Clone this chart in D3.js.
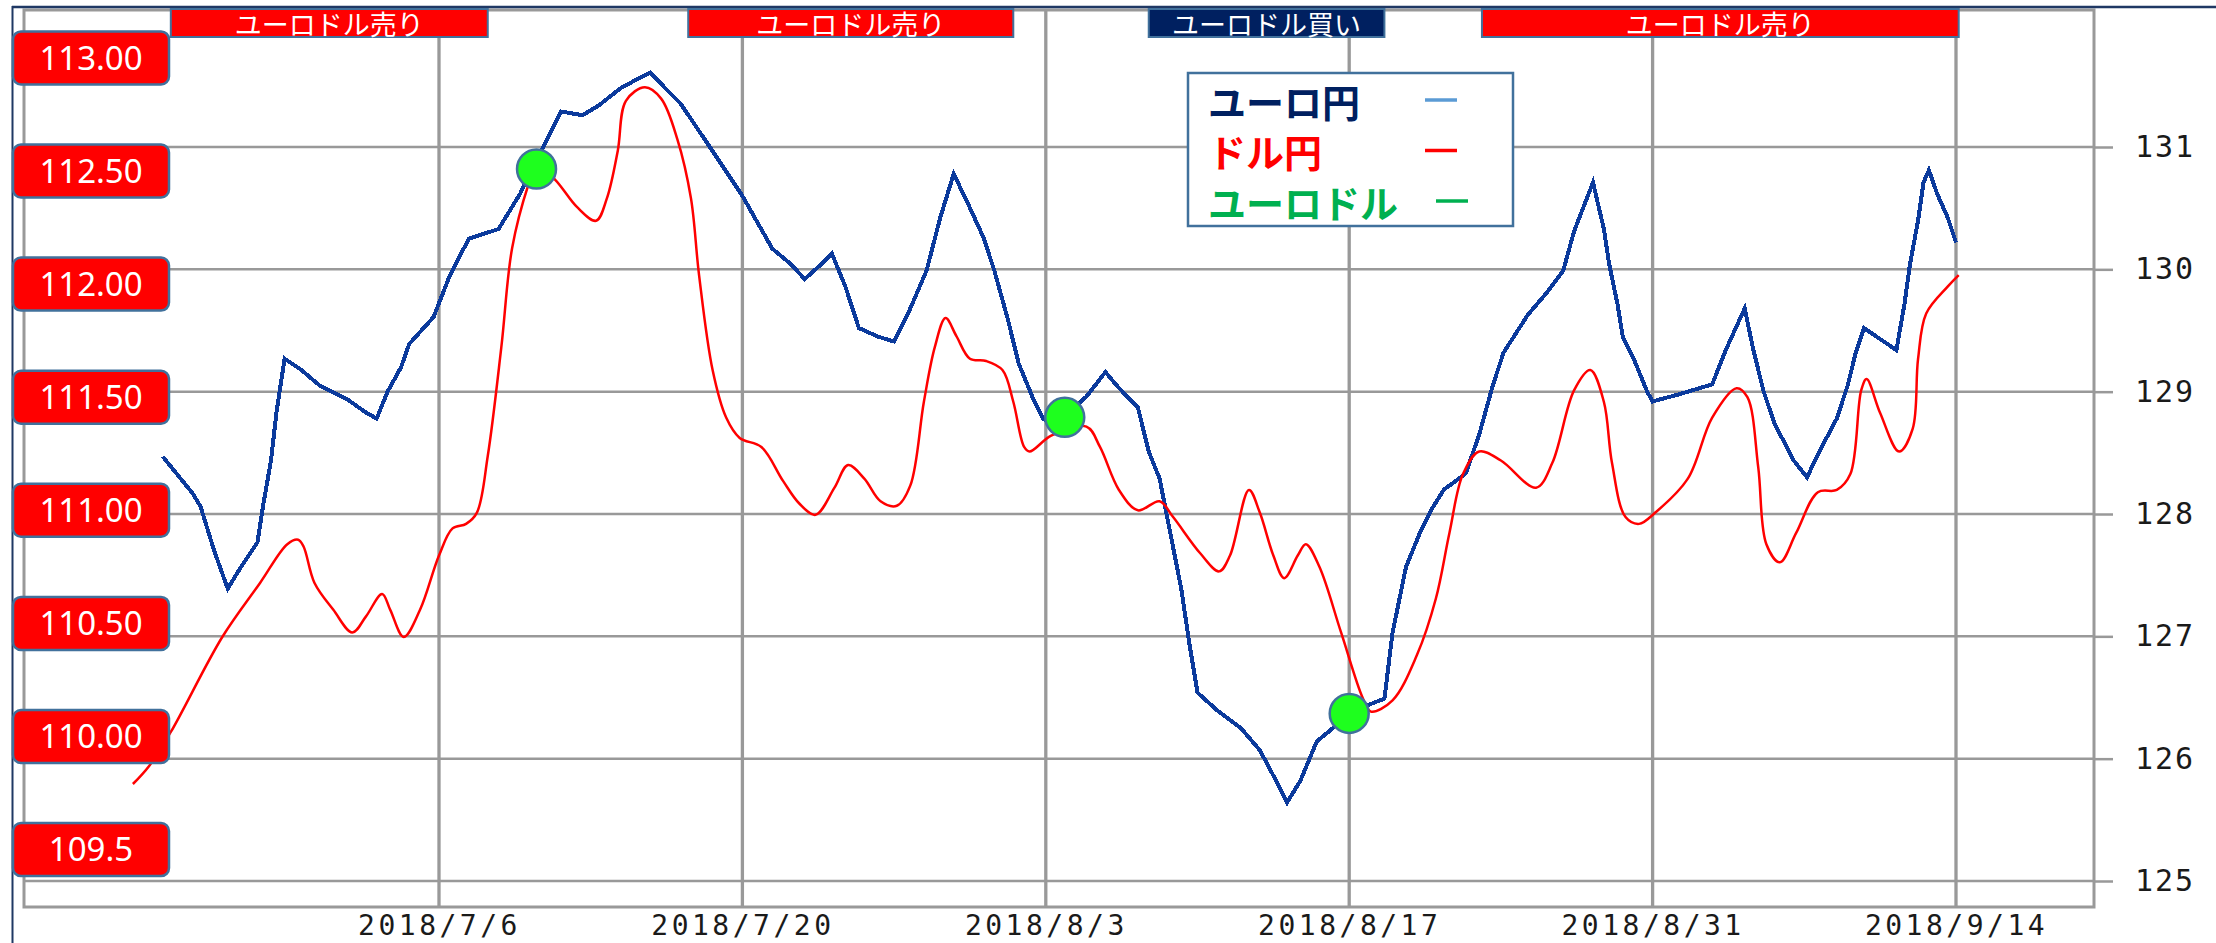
<!DOCTYPE html>
<html>
<head>
<meta charset="utf-8">
<script src="https://cdn.jsdelivr.net/npm/d3@7"></script>
<style>
  html, body { margin: 0; padding: 0; background: #fff; }
  svg { display: block; }
</style>
</head>
<body>
<div id="chart"></div>
<script>
// ユーロ円 (right axis)
const eurJpyTimes = [
  "2018/6/23 06", "2018/6/24 15", "2018/6/25 00", "2018/6/25 15", "2018/6/26 06", "2018/6/26 21",
  "2018/6/27 15", "2018/6/27 21", "2018/6/28 06", "2018/6/28 12", "2018/6/28 21", "2018/6/29 15",
  "2018/6/30 12", "2018/7/1 18", "2018/7/2 15", "2018/7/3 03", "2018/7/3 15", "2018/7/4 06",
  "2018/7/4 15", "2018/7/5 18", "2018/7/6 12", "2018/7/7 09", "2018/7/8 18", "2018/7/9 18",
  "2018/7/10 18", "2018/7/11 15", "2018/7/12 15", "2018/7/13 09", "2018/7/14 09", "2018/7/15 00",
  "2018/7/15 18", "2018/7/16 12", "2018/7/17 03", "2018/7/18 12", "2018/7/20 00", "2018/7/21 09",
  "2018/7/22 06", "2018/7/22 21", "2018/7/23 15", "2018/7/24 03", "2018/7/24 18", "2018/7/25 09",
  "2018/7/26 06", "2018/7/27 00", "2018/7/27 15", "2018/7/28 12", "2018/7/29 03", "2018/7/29 18",
  "2018/7/30 09", "2018/7/31 03", "2018/7/31 15", "2018/8/1 06", "2018/8/1 18", "2018/8/2 09",
  "2018/8/2 21", "2018/8/3 09", "2018/8/4 21", "2018/8/5 18", "2018/8/6 09", "2018/8/7 06",
  "2018/8/7 18", "2018/8/8 06", "2018/8/8 18", "2018/8/9 06", "2018/8/9 15", "2018/8/10 00",
  "2018/8/10 21", "2018/8/12 00", "2018/8/12 21", "2018/8/13 15", "2018/8/14 03", "2018/8/14 18",
  "2018/8/15 12", "2018/8/16 06", "2018/8/17 00", "2018/8/18 15", "2018/8/19 00", "2018/8/19 15",
  "2018/8/20 06", "2018/8/20 21", "2018/8/21 09", "2018/8/22 09", "2018/8/23 00", "2018/8/23 15",
  "2018/8/24 03", "2018/8/25 06", "2018/8/26 03", "2018/8/26 21", "2018/8/27 09", "2018/8/28 06",
  "2018/8/28 18", "2018/8/29 00", "2018/8/29 09", "2018/8/29 15", "2018/8/30 03", "2018/8/30 18",
  "2018/8/31 00", "2018/9/1 06", "2018/9/2 18", "2018/9/3 09", "2018/9/4 06", "2018/9/4 15",
  "2018/9/5 03", "2018/9/5 15", "2018/9/6 12", "2018/9/7 03", "2018/9/7 18", "2018/9/8 12",
  "2018/9/9 00", "2018/9/9 09", "2018/9/9 18", "2018/9/10 12", "2018/9/11 06", "2018/9/11 15",
  "2018/9/11 21", "2018/9/12 06", "2018/9/12 12", "2018/9/12 18", "2018/9/13 03", "2018/9/13 15",
  "2018/9/14 00"
];
const eurJpyValues = [
  128.47, 128.17, 128.06, 127.70, 127.39, 127.57,
  127.77, 128.06, 128.44, 128.83, 129.27, 129.18,
  129.05, 128.94, 128.83, 128.78, 129.00, 129.20,
  129.39, 129.61, 129.95, 130.25, 130.33, 130.62,
  130.98, 131.29, 131.26, 131.34, 131.48, 131.54,
  131.61, 131.47, 131.36, 131.00, 130.60, 130.17,
  130.04, 129.92, 130.04, 130.13, 129.86, 129.52,
  129.45, 129.41, 129.63, 129.99, 130.42, 130.78,
  130.55, 130.26, 129.99, 129.59, 129.23, 128.96,
  128.78, 128.72, 128.96, 129.16, 129.03, 128.87,
  128.51, 128.29, 127.84, 127.39, 126.94, 126.54,
  126.40, 126.25, 126.07, 125.82, 125.64, 125.82,
  126.14, 126.25, 126.38, 126.49, 127.03, 127.57,
  127.84, 128.06, 128.20, 128.33, 128.65, 129.05,
  129.32, 129.63, 129.81, 129.99, 130.31, 130.71,
  130.33, 130.04, 129.72, 129.45, 129.27, 129.00,
  128.92, 128.98, 129.06, 129.34, 129.68, 129.36,
  129.00, 128.74, 128.44, 128.30, 128.53, 128.78,
  129.05, 129.32, 129.52, 129.43, 129.34, 129.72,
  130.04, 130.40, 130.71, 130.81, 130.62, 130.42,
  130.22
];

// ドル円 (left labels)
const usdJpyTimes = [
  "2018/6/21 21", "2018/6/22 15", "2018/6/23 15", "2018/6/26 00", "2018/6/27 18", "2018/6/29 00",
  "2018/6/29 12", "2018/6/29 18", "2018/6/30 06", "2018/7/1 03", "2018/7/2 00", "2018/7/2 15",
  "2018/7/3 09", "2018/7/3 18", "2018/7/4 09", "2018/7/5 03", "2018/7/6 00", "2018/7/6 15",
  "2018/7/7 06", "2018/7/7 18", "2018/7/8 06", "2018/7/8 21", "2018/7/9 09", "2018/7/10 03",
  "2018/7/10 12", "2018/7/11 09", "2018/7/12 09", "2018/7/13 06", "2018/7/13 18", "2018/7/14 06",
  "2018/7/14 15", "2018/7/15 12", "2018/7/16 06", "2018/7/17 00", "2018/7/17 15", "2018/7/18 00",
  "2018/7/18 15", "2018/7/19 06", "2018/7/19 21", "2018/7/20 21", "2018/7/21 21", "2018/7/22 15",
  "2018/7/23 09", "2018/7/24 06", "2018/7/24 21", "2018/7/25 15", "2018/7/26 09", "2018/7/27 03",
  "2018/7/27 18", "2018/7/28 09", "2018/7/28 21", "2018/7/29 09", "2018/7/29 21", "2018/7/30 12",
  "2018/7/31 06", "2018/8/1 00", "2018/8/1 12", "2018/8/2 00", "2018/8/2 06", "2018/8/3 06",
  "2018/8/4 21", "2018/8/5 12", "2018/8/6 09", "2018/8/7 06", "2018/8/8 06", "2018/8/8 21",
  "2018/8/10 03", "2018/8/11 00", "2018/8/11 12", "2018/8/12 09", "2018/8/12 21", "2018/8/13 12",
  "2018/8/14 00", "2018/8/14 15", "2018/8/15 00", "2018/8/15 15", "2018/8/16 15", "2018/8/17 15",
  "2018/8/18 00", "2018/8/19 00", "2018/8/20 03", "2018/8/21 00", "2018/8/21 15", "2018/8/22 06",
  "2018/8/23 00", "2018/8/24 00", "2018/8/25 15", "2018/8/26 09", "2018/8/27 09", "2018/8/28 03",
  "2018/8/28 18", "2018/8/29 03", "2018/8/29 18", "2018/8/30 09", "2018/8/31 03", "2018/9/1 15",
  "2018/9/2 18", "2018/9/3 21", "2018/9/4 09", "2018/9/4 21", "2018/9/5 06", "2018/9/5 21",
  "2018/9/6 15", "2018/9/7 15", "2018/9/8 12", "2018/9/9 03", "2018/9/9 15", "2018/9/9 21",
  "2018/9/10 12", "2018/9/11 09", "2018/9/12 00", "2018/9/12 06", "2018/9/12 15", "2018/9/13 15",
  "2018/9/14 03"
];
const usdJpyValues = [
  109.79, 109.87, 110.02, 110.44, 110.68, 110.85,
  110.87, 110.84, 110.68, 110.56, 110.46, 110.53,
  110.63, 110.56, 110.44, 110.56, 110.80, 110.92,
  110.94, 110.99, 111.24, 111.72, 112.16, 112.44,
  112.53, 112.46, 112.34, 112.28, 112.38, 112.59,
  112.81, 112.87, 112.82, 112.64, 112.38, 112.04,
  111.62, 111.41, 111.32, 111.28, 111.13, 111.03,
  110.98, 111.10, 111.20, 111.14, 111.04, 111.02,
  111.11, 111.48, 111.72, 111.85, 111.77, 111.67,
  111.66, 111.62, 111.48, 111.28, 111.26, 111.33,
  111.37, 111.28, 111.09, 111.00, 111.04, 110.97,
  110.81, 110.73, 110.80, 111.09, 110.99, 110.80,
  110.70, 110.80, 110.85, 110.75, 110.46, 110.17,
  110.11, 110.16, 110.36, 110.61, 110.90, 111.16,
  111.26, 111.22, 111.10, 111.21, 111.53, 111.62,
  111.48, 111.21, 110.97, 110.94, 110.99, 111.14,
  111.41, 111.54, 111.50, 111.19, 110.85, 110.77,
  110.90, 111.08, 111.09, 111.16, 111.53, 111.58,
  111.43, 111.26, 111.36, 111.67, 111.87, 111.99,
  112.04
];

// ユーロドル markers (placed on the ユーロ円 scale)
const signalTimes = ["2018/7/10 12", "2018/8/3 21", "2018/8/17 00"];
const signalValues = [130.82, 128.79, 126.37];

const dateTicks = ["2018/7/6", "2018/7/20", "2018/8/3", "2018/8/17", "2018/8/31", "2018/9/14"];
const rightTicks = [125, 126, 127, 128, 129, 130, 131];
const leftTicks = [113, 112.5, 112, 111.5, 111, 110.5, 110, 109.5];
const leftTickLabels = ["113.00", "112.50", "112.00", "111.50", "111.00", "110.50", "110.00", "109.5"];

const bannerLabels = ["ユーロドル売り", "ユーロドル売り", "ユーロドル買い", "ユーロドル売り"];
const bannerStarts = ["2018/6/23 15", "2018/7/17 12", "2018/8/7 18", "2018/8/23 03"];
const bannerEnds = ["2018/7/8 06", "2018/8/1 12", "2018/8/18 15", "2018/9/14 03"];
const bannerKinds = ["sell", "sell", "buy", "sell"];

const legendLabels = ["ユーロ円", "ドル円", "ユーロドル"];
const legendColors = ["#002060", "#ff0000", "#00b050"];
const legendSwatches = ["#5b9bd5", "#ff0000", "#00b050"];

const width = 2216;
const height = 943;
const plot = { left: 24, right: 2094, top: 10, bottom: 907 };

const parseHour = d3.timeParse("%Y/%m/%d %H");
const parseDay = d3.timeParse("%Y/%m/%d");
const fmtDay = d3.timeFormat("%Y/%-m/%-d");

const x = d3.scaleTime()
  .domain([parseDay("2018/7/6"), parseDay("2018/9/14")])
  .range([439, 1956]);
const yR = d3.scaleLinear().domain([125, 131]).range([881, 147]);
const yL = d3.scaleLinear().domain([109.5, 113]).range([849.6, 57.9]);

const eurJpy = eurJpyTimes.map((t, i) => ({ t: parseHour(t), v: eurJpyValues[i] }));
const usdJpy = usdJpyTimes.map((t, i) => ({ t: parseHour(t), v: usdJpyValues[i] }));
const signals = signalTimes.map((t, i) => ({ t: parseHour(t), v: signalValues[i] }));
const banners = bannerLabels.map((label, i) => ({
  label,
  kind: bannerKinds[i],
  start: parseHour(bannerStarts[i]),
  end: parseHour(bannerEnds[i]),
}));

const svg = d3.select("#chart")
  .append("svg")
  .attr("width", width)
  .attr("height", height)
  .attr("viewBox", [0, 0, width, height].join(" "));

const gridColor = "#999999";

// horizontal grid
svg.append("g")
  .selectAll("line")
  .data(rightTicks)
  .join("line")
  .attr("x1", plot.left)
  .attr("x2", plot.right)
  .attr("y1", (d) => yR(d))
  .attr("y2", (d) => yR(d))
  .attr("stroke", gridColor)
  .attr("stroke-width", 2.5);

// vertical date grid
svg.append("g")
  .selectAll("line")
  .data(dateTicks)
  .join("line")
  .attr("x1", (d) => x(parseDay(d)))
  .attr("x2", (d) => x(parseDay(d)))
  .attr("y1", plot.top)
  .attr("y2", plot.bottom)
  .attr("stroke", gridColor)
  .attr("stroke-width", 3.3);

// plot frame
svg.append("rect")
  .attr("x", plot.left)
  .attr("y", plot.top)
  .attr("width", plot.right - plot.left)
  .attr("height", plot.bottom - plot.top)
  .attr("fill", "none")
  .attr("stroke", gridColor)
  .attr("stroke-width", 3);

// outer dark lines
svg.append("line")
  .attr("x1", 12).attr("x2", width)
  .attr("y1", 7).attr("y2", 7)
  .attr("stroke", "#1f3864").attr("stroke-width", 2.5);
svg.append("line")
  .attr("x1", 12.5).attr("x2", 12.5)
  .attr("y1", 6).attr("y2", height)
  .attr("stroke", "#1f3864").attr("stroke-width", 2);

// right axis (ユーロ円)
const rightAxis = svg.append("g")
  .attr("transform", `translate(${plot.right},0)`)
  .call(d3.axisRight(yR).tickValues(rightTicks).tickSize(19).tickPadding(22).tickFormat(d3.format("d")));
rightAxis.select(".domain").remove();
rightAxis.selectAll(".tick line").attr("stroke", gridColor).attr("stroke-width", 2.5);
rightAxis.selectAll(".tick text")
  .attr("fill", "#1a1a1a")
  .style("font-family", "'DejaVu Sans Mono', monospace")
  .style("font-size", "30px")
  .style("letter-spacing", "2px");

// date axis
const bottomAxis = svg.append("g")
  .attr("transform", `translate(0,${plot.bottom})`)
  .call(d3.axisBottom(x).tickValues(dateTicks.map(parseDay)).tickSize(0).tickPadding(10).tickFormat(fmtDay));
bottomAxis.select(".domain").remove();
bottomAxis.selectAll(".tick text")
  .attr("fill", "#1a1a1a")
  .attr("y", 18)
  .attr("dy", "0.35em")
  .style("font-family", "'DejaVu Sans Mono', monospace")
  .style("font-size", "28px")
  .style("letter-spacing", "3.5px");

// ユーロ円 line
const eurLine = d3.line()
  .x((d) => x(d.t))
  .y((d) => yR(d.v));
svg.append("path")
  .datum(eurJpy)
  .attr("d", eurLine)
  .attr("fill", "none")
  .attr("stroke", "#0b3a9c")
  .attr("stroke-width", 4)
  .attr("stroke-linejoin", "miter")
  .attr("shape-rendering", "crispEdges");

// ドル円 line
const usdLine = d3.line()
  .curve(d3.curveCatmullRom.alpha(0.5))
  .x((d) => x(d.t))
  .y((d) => yL(d.v));
svg.append("path")
  .datum(usdJpy)
  .attr("d", usdLine)
  .attr("fill", "none")
  .attr("stroke", "#ff0000")
  .attr("stroke-width", 2.5);

// ユーロドル markers
svg.append("g")
  .selectAll("circle")
  .data(signals)
  .join("circle")
  .attr("cx", (d) => x(d.t))
  .attr("cy", (d) => yR(d.v))
  .attr("r", 19.5)
  .attr("fill", "#1eff1e")
  .attr("stroke", "#41719c")
  .attr("stroke-width", 2.5);

// left value boxes (ドル円)
const boxes = svg.append("g")
  .selectAll("g")
  .data(leftTicks)
  .join("g")
  .attr("transform", (d) => `translate(13,${yL(d)})`);
boxes.append("rect")
  .attr("x", 0)
  .attr("y", -26.5)
  .attr("width", 156)
  .attr("height", 53)
  .attr("rx", 8)
  .attr("fill", "#ff0000")
  .attr("stroke", "#41719c")
  .attr("stroke-width", 2.5);
boxes.append("text")
  .attr("x", 78)
  .attr("y", 0)
  .attr("dy", "0.36em")
  .attr("text-anchor", "middle")
  .attr("fill", "#fff")
  .style("font-family", "'Noto Sans', sans-serif")
  .style("font-size", "33px")
  .text((d, i) => leftTickLabels[i]);

// banners
const bannerG = svg.append("g")
  .selectAll("g")
  .data(banners)
  .join("g");
bannerG.append("rect")
  .attr("x", (d) => x(d.start))
  .attr("y", 9)
  .attr("width", (d) => x(d.end) - x(d.start))
  .attr("height", 28)
  .attr("fill", (d) => (d.kind === "buy" ? "#002060" : "#ff0000"))
  .attr("stroke", "#41719c")
  .attr("stroke-width", 2);
bannerG.append("text")
  .attr("x", (d) => (x(d.start) + x(d.end)) / 2)
  .attr("y", 23.5)
  .attr("dominant-baseline", "central")
  .attr("text-anchor", "middle")
  .attr("fill", "#fff")
  .style("font-family", "'Noto Sans CJK JP', sans-serif")
  .style("font-size", "27px")
  .text((d) => d.label);

// legend
const legend = svg.append("g").attr("transform", "translate(1188,73)");
legend.append("rect")
  .attr("width", 325)
  .attr("height", 153)
  .attr("fill", "#fff")
  .attr("stroke", "#41719c")
  .attr("stroke-width", 2.5);
const legendRows = legend.selectAll("g.row")
  .data(legendLabels)
  .join("g")
  .attr("class", "row")
  .attr("transform", (d, i) => `translate(0,${27 + i * 50.5})`);
legendRows.append("text")
  .attr("x", 20)
  .attr("y", 0)
  .attr("dominant-baseline", "central")
  .attr("fill", (d, i) => legendColors[i])
  .style("font-family", "'Noto Sans CJK JP', sans-serif")
  .style("font-weight", "bold")
  .style("font-size", "38px")
  .text((d) => d);
legendRows.append("line")
  .attr("x1", (d, i) => (i === 2 ? 248 : 237))
  .attr("x2", (d, i) => (i === 2 ? 280 : 269))
  .attr("y1", 0)
  .attr("y2", 0)
  .attr("stroke", (d, i) => legendSwatches[i])
  .attr("stroke-width", 3.5);
</script>
</body>
</html>
